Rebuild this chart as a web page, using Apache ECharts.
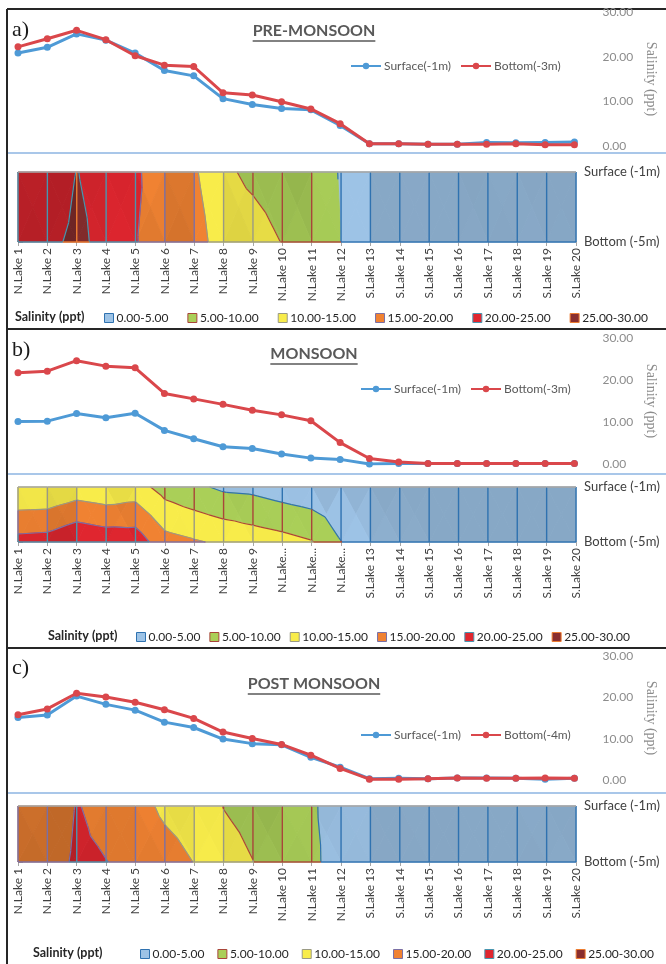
<!DOCTYPE html>
<html>
<head>
<meta charset="utf-8">
<script src="https://cdn.jsdelivr.net/npm/echarts@6/dist/echarts.min.js"></script>
<style>
html, body { margin: 0; padding: 0; background: #fff; }
#chart { width: 666px; height: 964px; }
</style>
</head>
<body>
<div id="chart"></div>
<script>
// station names (x categories)
const stations = ['N.Lake 1', 'N.Lake 2', 'N.Lake 3', 'N.Lake 4', 'N.Lake 5', 'N.Lake 6', 'N.Lake 7',
  'N.Lake 8', 'N.Lake 9', 'N.Lake 10', 'N.Lake 11', 'N.Lake 12', 'S.Lake 13', 'S.Lake 14',
  'S.Lake 15', 'S.Lake 16', 'S.Lake 17', 'S.Lake 18', 'S.Lake 19', 'S.Lake 20']
// monsoon panel has truncated labels for 10-12
const stationsMonsoon = ['N.Lake 1', 'N.Lake 2', 'N.Lake 3', 'N.Lake 4', 'N.Lake 5', 'N.Lake 6', 'N.Lake 7',
  'N.Lake 8', 'N.Lake 9', 'N.Lake...', 'N.Lake...', 'N.Lake...', 'S.Lake 13', 'S.Lake 14',
  'S.Lake 15', 'S.Lake 16', 'S.Lake 17', 'S.Lake 18', 'S.Lake 19', 'S.Lake 20']

// salinity (ppt)
const preSurface = [20.8, 22.1, 25.1, 23.7, 20.8, 16.9, 15.7, 10.6, 9.3, 8.4, 8.1, 4.6, 0.5, 0.5, 0.4, 0.4, 0.8, 0.7, 0.8, 0.9]
const preBottom = [22.2, 24.0, 25.9, 23.8, 20.2, 18.1, 17.8, 11.9, 11.4, 9.9, 8.3, 5.0, 0.5, 0.5, 0.4, 0.4, 0.4, 0.5, 0.3, 0.3]
const monSurface = [10.1, 10.2, 12.0, 11.0, 12.1, 8.0, 6.0, 4.1, 3.7, 2.4, 1.4, 1.1, 0.0, 0.1, 0.1, 0.1, 0.1, 0.1, 0.1, 0.1]
const monBottom = [21.7, 22.1, 24.6, 23.3, 22.9, 16.8, 15.5, 14.2, 12.8, 11.7, 10.3, 5.1, 1.3, 0.5, 0.1, 0.1, 0.1, 0.1, 0.1, 0.1]
const postSurface = [15.1, 15.7, 20.3, 18.3, 16.9, 14.0, 12.7, 9.9, 8.8, 8.5, 5.5, 3.1, 0.3, 0.4, 0.3, 0.5, 0.5, 0.4, 0.2, 0.4]
const postBottom = [15.8, 17.2, 21.0, 20.1, 18.8, 17.0, 14.9, 11.6, 10.05, 8.6, 6.0, 2.8, 0.2, 0.2, 0.3, 0.5, 0.4, 0.4, 0.5, 0.4]

const bandLevels = [0, 5, 10, 15, 20, 25, 30]
const bandNames = ['0.00-5.00', '5.00-10.00', '10.00-15.00', '15.00-20.00', '20.00-25.00', '25.00-30.00']
const bandFill = ['#9DC3E6', '#AACF58', '#F8EC4A', '#F08232', '#E0262F', '#8A2E2E']
const bandEdge = ['#2F72B0', '#A9453A', '#9A9A84', '#7A70A6', '#4896B0', '#ED7D31']

const blue = '#4E9AD6'
const red = '#DA474B'
const font = 'Lato'

const panels = [
  { tag: 'a)', title: 'PRE-MONSOON', surf: preSurface, bot: preBottom, names: stations, botName: 'Bottom(-3m)',
    lineTop: 12, lineH: 134, cTop: 172, cH: 70, titleY: 31, tagY: 31, legendY: 55, legendX: 345,
    bandY: 317, saliX: 15, bandX: 99, bandGap: 19, sepY: 153 },
  { tag: 'b)', title: 'MONSOON', surf: monSurface, bot: monBottom, names: stationsMonsoon, botName: 'Bottom(-3m)',
    lineTop: 338, lineH: 126, cTop: 487, cH: 55, titleY: 354, tagY: 351, legendY: 378, legendX: 355,
    bandY: 636, saliX: 48, bandX: 131, bandGap: 9, sepY: 474 },
  { tag: 'c)', title: 'POST MONSOON', surf: postSurface, bot: postBottom, names: stations, botName: 'Bottom(-4m)',
    lineTop: 656, lineH: 124, cTop: 806, cH: 56, titleY: 684, tagY: 669, legendY: 724, legendX: 355,
    bandY: 953, saliX: 33, bandX: 135, bandGap: 13, sepY: 793 }
]

const GL = 18
const GR = 90

function shade(hex, f) {
  const n = parseInt(hex.slice(1), 16)
  const c = [(n >> 16) & 255, (n >> 8) & 255, n & 255].map((v) => Math.max(0, Math.min(255, Math.round(v * f))))
  return 'rgb(' + c.join(',') + ')'
}

// keep part of polygon where sign*(v-level) >= 0
function clipPoly(poly, level, sign) {
  const out = []
  for (let k = 0; k < poly.length; k++) {
    const a = poly[k]
    const b = poly[(k + 1) % poly.length]
    const da = sign * (a.v - level)
    const db = sign * (b.v - level)
    if (da >= 0) out.push(a)
    if ((da >= 0) !== (db >= 0)) {
      const t = da / (da - db)
      out.push({ x: a.x + t * (b.x - a.x), y: a.y + t * (b.y - a.y), v: level })
    }
  }
  return out
}

function segRange(a, b, lo, hi) {
  const dv = b.v - a.v
  if (Math.abs(dv) < 1e-9) return a.v >= lo && a.v < hi ? [0, 1] : null
  let ta = (lo - a.v) / dv
  let tb = (hi - a.v) / dv
  if (ta > tb) [ta, tb] = [tb, ta]
  const t0 = Math.max(0, ta)
  const t1 = Math.min(1, tb)
  return t1 > t0 ? [t0, t1] : null
}

// rough lighting like the excel surface: falling slopes lighter
function lightOf(t) {
  const [p0, p1, p2] = t
  const det = (p1.x - p0.x) * (p2.y - p0.y) - (p2.x - p0.x) * (p1.y - p0.y)
  const dvdx = ((p1.v - p0.v) * (p2.y - p0.y) - (p2.v - p0.v) * (p1.y - p0.y)) / det
  const dvdy = ((p2.v - p0.v) * (p1.x - p0.x) - (p1.v - p0.v) * (p2.x - p0.x)) / det
  return Math.max(0.8, Math.min(1.0, 0.86 - 0.035 * dvdx - 0.01 * dvdy))
}

function contourItem(surf, bot) {
  return function (params, api) {
    const i = api.value(0)
    const tl = { x: i, y: 1, v: surf[i] }
    const tr = { x: i + 1, y: 1, v: surf[i + 1] }
    const br = { x: i + 1, y: 0, v: bot[i + 1] }
    const bl = { x: i, y: 0, v: bot[i] }
    const c = { x: i + 0.5, y: 0.5, v: (tl.v + tr.v + br.v + bl.v) / 4 }
    const tris = [[tl, tr, c], [tr, br, c], [br, bl, c], [bl, tl, c]]
    const pt = (p) => api.coord([p.x, p.y])
    const children = []
    tris.forEach((t) => {
      const f = lightOf(t)
      for (let b = 0; b < 6; b++) {
        const poly = clipPoly(clipPoly(t, bandLevels[b], 1), bandLevels[b + 1], -1)
        if (poly.length < 3) continue
        const col = shade(bandFill[b], f)
        children.push({
          type: 'polygon', z2: 1,
          shape: { points: poly.map(pt) },
          style: { fill: col, stroke: col, lineWidth: 0.9 }
        })
      }
      // contour lines inside the triangle
      for (let b = 1; b < 6; b++) {
        const L = bandLevels[b]
        const hits = []
        for (let k = 0; k < 3; k++) {
          const a = t[k]
          const q = t[(k + 1) % 3]
          if ((a.v - L) * (q.v - L) < 0) {
            const s = (L - a.v) / (q.v - a.v)
            hits.push({ x: a.x + s * (q.x - a.x), y: a.y + s * (q.y - a.y) })
          }
        }
        if (hits.length === 2) {
          const p = pt(hits[0])
          const q = pt(hits[1])
          children.push({
            type: 'line', z2: 5,
            shape: { x1: p[0], y1: p[1], x2: q[0], y2: q[1] },
            style: { stroke: bandEdge[b - 1], lineWidth: 1.2 }
          })
        }
      }
    })
    // station lines and bottom edge coloured per band
    const segs = [[tl, bl, 6], [bl, br, 7]]
    if (i === surf.length - 2) segs.push([tr, br, 6])
    segs.forEach(([a, b, z]) => {
      for (let k = 0; k < 6; k++) {
        const r = segRange(a, b, bandLevels[k], bandLevels[k + 1])
        if (!r) continue
        const p = pt({ x: a.x + r[0] * (b.x - a.x), y: a.y + r[0] * (b.y - a.y) })
        const q = pt({ x: a.x + r[1] * (b.x - a.x), y: a.y + r[1] * (b.y - a.y) })
        children.push({
          type: 'line', z2: z,
          shape: { x1: p[0], y1: p[1], x2: q[0], y2: q[1] },
          style: { stroke: bandEdge[k], lineWidth: 1.4 }
        })
      }
    })
    const p = pt(tl)
    const q = pt(tr)
    children.push({
      type: 'line', z2: 8,
      shape: { x1: p[0], y1: p[1], x2: q[0], y2: q[1] },
      style: { stroke: '#A6A6A6', lineWidth: 1.6 }
    })
    return { type: 'group', children }
  }
}

const measure = document.createElement('canvas').getContext('2d')
function textWidth(txt, f) {
  measure.font = f
  return measure.measureText(txt).width
}

const grid = []
const xAxis = []
const yAxis = []
const series = []
const legend = []
const graphic = []

panels.forEach((pn, k) => {
  grid.push({ left: GL, right: GR, top: pn.lineTop, height: pn.lineH })
  grid.push({ left: GL, right: GR, top: pn.cTop, height: pn.cH })

  xAxis.push({ type: 'category', gridIndex: 2 * k, data: pn.names, boundaryGap: false, show: false })
  xAxis.push({
    type: 'value', gridIndex: 2 * k + 1, min: 0, max: pn.names.length - 1, interval: 1,
    axisLine: { show: false },
    axisTick: { show: true, length: 4, lineStyle: { color: '#A6A6A6', width: 1 } },
    splitLine: { show: false },
    axisLabel: {
      rotate: 90, margin: 6, fontSize: 12, fontFamily: font, color: '#404040',
      formatter: (v) => pn.names[Math.round(v)]
    }
  })

  yAxis.push({
    type: 'value', gridIndex: 2 * k, position: 'right', min: 0, max: 30, interval: 10,
    axisLine: { show: false }, axisTick: { show: false }, splitLine: { show: false },
    axisLabel: { margin: 28, fontSize: 12, fontFamily: font, color: '#8C8C8C', formatter: (v) => v.toFixed(2) },
    name: 'Salinity (ppt)', nameLocation: 'middle', nameRotate: -90, nameGap: 68,
    nameTextStyle: { fontFamily: 'Liberation Serif', fontSize: 14, color: '#8C8C8C' }
  })
  yAxis.push({
    type: 'value', gridIndex: 2 * k + 1, position: 'right', min: 0, max: 1, interval: 1,
    axisLine: { show: false }, splitLine: { show: false },
    axisTick: { show: true, length: 5, lineStyle: { color: '#A6A6A6', width: 1 } },
    axisLabel: {
      margin: 8, fontSize: 13, fontFamily: font, color: '#404040',
      formatter: (v) => (v === 1 ? 'Surface (-1m)' : 'Bottom (-5m)')
    }
  })

  series.push({
    type: 'line', name: 'Surface(-1m)', xAxisIndex: 2 * k, yAxisIndex: 2 * k, data: pn.surf,
    symbol: 'circle', symbolSize: 7, lineStyle: { width: 3, color: blue }, itemStyle: { color: blue }, z: 3
  })
  series.push({
    type: 'line', name: pn.botName, xAxisIndex: 2 * k, yAxisIndex: 2 * k, data: pn.bot,
    symbol: 'circle', symbolSize: 7, lineStyle: { width: 3, color: red }, itemStyle: { color: red }, z: 4
  })
  series.push({
    type: 'custom', name: 'contour' + k, xAxisIndex: 2 * k + 1, yAxisIndex: 2 * k + 1,
    data: pn.surf.slice(1).map((_, i) => [i]),
    renderItem: contourItem(pn.surf, pn.bot), clip: false
  })

  legend.push({
    left: pn.legendX, top: pn.legendY, itemWidth: 30, itemHeight: 8, itemGap: 9,
    textStyle: { fontFamily: font, fontSize: 12, color: '#595959', padding: [0, 0, 0, -2] },
    data: ['Surface(-1m)', pn.botName], selectedMode: false
  })
  legend.push({
    left: pn.bandX, top: pn.bandY - 10, width: 900, itemWidth: 9, itemHeight: 9, itemGap: pn.bandGap,
    selectedMode: false,
    textStyle: { fontFamily: font, fontSize: 12, color: '#262626', padding: [0, 0, 0, -2] },
    data: bandNames.map((n, b) => ({
      name: n, icon: 'rect',
      itemStyle: { color: bandFill[b], borderColor: bandEdge[b], borderWidth: 1 }
    }))
  })

  const tf = 'bold 16px ' + font
  const tw = textWidth(pn.title, tf)
  graphic.push({ type: 'text', left: 12, top: pn.tagY - 12, style: { text: pn.tag, font: '22px "Liberation Serif"', fill: '#1a1a1a' } })
  graphic.push({
    type: 'text', x: 314, y: pn.titleY,
    style: { text: pn.title, font: tf, fill: '#595959', textAlign: 'center', textVerticalAlign: 'middle' }
  })
  graphic.push({
    type: 'line', shape: { x1: 314 - tw / 2, y1: pn.titleY + 10, x2: 314 + tw / 2, y2: pn.titleY + 10 },
    style: { stroke: '#595959', lineWidth: 1.3 }
  })
  graphic.push({
    type: 'text', x: pn.saliX, y: pn.bandY,
    style: { text: 'Salinity (ppt)', font: 'bold 12.5px ' + font, fill: '#262626', textVerticalAlign: 'middle' }
  })
  graphic.push({
    type: 'line', shape: { x1: 7, y1: pn.sepY, x2: 666, y2: pn.sepY },
    style: { stroke: '#8DB4E2', lineWidth: 1.5 }
  })
})

// band series only to feed the legends
bandNames.forEach((n, b) => {
  series.push({ type: 'custom', name: n, data: [], renderItem: () => null, itemStyle: { color: bandFill[b] }, xAxisIndex: 1, yAxisIndex: 1 })
})

// outer frame
graphic.push({ type: 'line', shape: { x1: 7, y1: 9, x2: 666, y2: 9 }, style: { stroke: '#262626', lineWidth: 2 } })
graphic.push({ type: 'line', shape: { x1: 7, y1: 9, x2: 7, y2: 964 }, style: { stroke: '#262626', lineWidth: 2 } })
graphic.push({ type: 'line', shape: { x1: 7, y1: 329, x2: 666, y2: 329 }, style: { stroke: '#262626', lineWidth: 2 } })
graphic.push({ type: 'line', shape: { x1: 7, y1: 648, x2: 666, y2: 648 }, style: { stroke: '#262626', lineWidth: 2 } })

const chart = echarts.init(document.getElementById('chart'))
chart.setOption({
  animation: false,
  backgroundColor: '#fff',
  grid, xAxis, yAxis, series, legend, graphic
})
</script>
</body>
</html>
